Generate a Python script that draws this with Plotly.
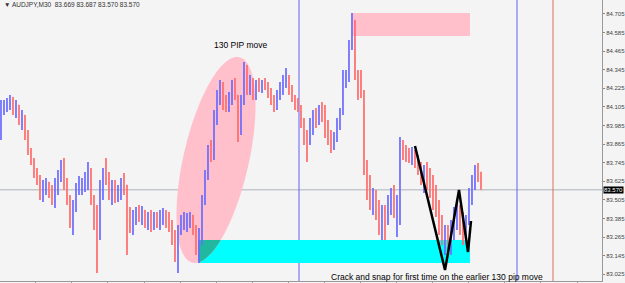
import math
import plotly.graph_objects as go

# ---------------- data (AUDJPY M30) ----------------
highs = [84.150, 84.150, 84.163, 84.182, 84.169, 84.150, 84.118, 84.085, 84.053, 83.956,
         83.840, 83.776, 83.711, 83.666, 83.634, 83.647, 83.621, 83.602, 83.647, 83.698,
         83.763, 83.776, 83.647, 83.537, 83.505, 83.614, 83.660, 83.647, 83.685, 83.750,
         83.711, 83.537, 83.472, 83.634, 83.711, 83.776, 83.685, 83.634, 83.634, 83.602,
         83.647, 83.679, 83.602, 83.460, 83.440, 83.460, 83.472, 83.466, 83.440, 83.427,
         83.440, 83.427, 83.427, 83.440, 83.453, 83.440, 83.427, 83.376, 83.311, 83.343,
         83.408, 83.427, 83.421, 83.427, 83.408, 83.343, 83.324, 83.537, 83.698, 83.860,
         83.892, 84.085, 84.214, 84.279, 84.266, 84.182, 84.201, 84.279, 84.292, 84.182,
         84.182, 84.395, 84.376, 84.311, 84.292, 84.279, 84.292, 84.279, 84.292, 84.266,
         84.227, 84.182, 84.214, 84.266, 84.311, 84.356, 84.311, 84.247, 84.182, 84.163,
         84.118, 84.034, 83.956, 84.034, 84.085, 84.098, 84.118, 84.137, 84.118, 84.021,
         83.956, 83.943, 84.034, 84.098, 84.343, 84.343, 84.537, 84.711, 84.666, 84.343,
         84.343, 84.214, 83.763, 83.666, 83.582, 83.569, 83.505, 83.472, 83.472, 83.537,
         83.582, 83.602, 83.537, 83.911, 83.892, 83.860, 83.840, 83.847, 83.827, 83.795,
         83.750, 83.730, 83.750, 83.711, 83.666, 83.602, 83.505, 83.408, 83.343, 83.343,
         83.376, 83.460, 83.505, 83.472, 83.427, 83.408, 83.582, 83.666, 83.730, 83.743,
         83.687]
lows = [83.892, 84.053, 84.072, 84.085, 84.053, 84.034, 83.989, 83.956, 83.892, 83.795,
        83.730, 83.647, 83.602, 83.505, 83.492, 83.537, 83.518, 83.472, 83.453, 83.537,
        83.621, 83.569, 83.472, 83.324, 83.279, 83.427, 83.537, 83.537, 83.556, 83.569,
        83.472, 83.311, 83.034, 83.247, 83.505, 83.602, 83.505, 83.472, 83.485, 83.492,
        83.505, 83.537, 83.150, 83.292, 83.279, 83.343, 83.363, 83.343, 83.324, 83.311,
        83.298, 83.311, 83.324, 83.311, 83.343, 83.324, 83.298, 83.214, 83.105, 83.034,
        83.279, 83.311, 83.298, 83.324, 83.279, 83.150, 83.098, 83.214, 83.472, 83.634,
        83.750, 83.763, 83.989, 84.118, 84.085, 84.072, 84.072, 84.118, 84.150, 83.879,
        83.924, 84.118, 84.182, 84.182, 84.150, 84.150, 84.201, 84.195, 84.214, 84.163,
        84.118, 84.072, 84.085, 84.150, 84.182, 84.227, 84.182, 84.137, 84.085, 84.072,
        83.969, 83.860, 83.750, 83.860, 83.924, 83.969, 83.989, 84.008, 83.905, 83.860,
        83.808, 83.827, 83.879, 83.956, 84.053, 84.227, 84.266, 84.472, 84.279, 84.150,
        84.163, 83.666, 83.505, 83.440, 83.408, 83.376, 83.279, 83.247, 83.247, 83.343,
        83.408, 83.389, 83.266, 83.343, 83.763, 83.750, 83.743, 83.730, 83.711, 83.666,
        83.602, 83.550, 83.569, 83.518, 83.440, 83.395, 83.279, 83.214, 83.150, 83.137,
        83.150, 83.247, 83.311, 83.279, 83.214, 83.247, 83.343, 83.472, 83.569, 83.621,
        83.570]
closes = [84.085, 84.098, 84.137, 84.150, 84.072, 84.118, 84.021, 84.053, 83.924, 83.827,
          83.763, 83.698, 83.634, 83.537, 83.602, 83.621, 83.550, 83.518, 83.602, 83.666,
          83.730, 83.602, 83.505, 83.376, 83.472, 83.569, 83.602, 83.634, 83.666, 83.698,
          83.505, 83.408, 83.311, 83.569, 83.666, 83.634, 83.537, 83.602, 83.537, 83.569,
          83.621, 83.602, 83.408, 83.343, 83.408, 83.427, 83.389, 83.440, 83.363, 83.408,
          83.343, 83.389, 83.376, 83.408, 83.427, 83.363, 83.343, 83.247, 83.182, 83.324,
          83.363, 83.376, 83.389, 83.408, 83.311, 83.214, 83.247, 83.505, 83.666, 83.827,
          83.795, 84.053, 84.182, 84.214, 84.150, 84.118, 84.150, 84.247, 84.182, 83.956,
          84.150, 84.343, 84.247, 84.279, 84.182, 84.247, 84.227, 84.266, 84.247, 84.201,
          84.150, 84.118, 84.182, 84.227, 84.279, 84.292, 84.214, 84.163, 84.137, 84.098,
          84.021, 83.892, 83.892, 83.989, 84.034, 84.021, 84.085, 84.053, 83.956, 83.892,
          83.860, 83.905, 83.989, 84.072, 84.279, 84.292, 84.505, 84.666, 84.311, 84.214,
          84.182, 83.730, 83.602, 83.505, 83.537, 83.440, 83.343, 83.408, 83.376, 83.472,
          83.505, 83.440, 83.505, 83.860, 83.827, 83.795, 83.776, 83.814, 83.750, 83.698,
          83.647, 83.666, 83.634, 83.569, 83.505, 83.440, 83.343, 83.260, 83.279, 83.182,
          83.311, 83.408, 83.440, 83.343, 83.279, 83.376, 83.537, 83.634, 83.685, 83.669,
          83.570]
first_open = 83.924
opens = [first_open] + closes[:-1]
bars = list(range(len(closes)))

ytick_vals = [83.025, 83.145, 83.265, 83.385, 83.505, 83.625, 83.745, 83.865,
              83.985, 84.105, 84.225, 84.345, 84.465, 84.585, 84.705]
ytick_text = ["83.025", "83.145", "83.265", "83.385", "83.505", "83.625", "83.745", "83.865",
              "83.985", "84.105", "84.225", "84.345", "84.465", "84.585", "84.705"]
header_text = "\u25bc AUDJPY,M30  83.669 83.687 83.570 83.570"
last_price = 83.570
note_top = "130 PIP move"
note_bottom = "Crack and snap for first time on the earlier 130 pip move"

# ---------------- layout geometry ----------------
X_RANGE = [-0.33, 200.34]
Y_RANGE = [82.982, 84.795]
PW, PH = 602, 281   # plot area in px


def X(px):
    return X_RANGE[0] + px / PW * (X_RANGE[1] - X_RANGE[0])


def Y(py):
    return Y_RANGE[1] - py / PH * (Y_RANGE[1] - Y_RANGE[0])


def path_from_px(pts, close=True):
    s = "M " + " L ".join(f"{X(p[0]):.4f},{Y(p[1]):.5f}" for p in pts)
    return s + (" Z" if close else "")


def ellipse_px(cx, cy, a, b, theta_deg, n=120):
    th = math.radians(theta_deg)
    pts = []
    for k in range(n):
        t = 2 * math.pi * k / n
        u, v = a * math.cos(t), b * math.sin(t)
        pts.append((cx + u * math.sin(th) + v * math.cos(th),
                    cy - u * math.cos(th) + v * math.sin(th)))
    return pts


def clip(poly, xmin, xmax, ymin, ymax):
    def edge(pts, inside, inter):
        out = []
        for i in range(len(pts)):
            cur, prev = pts[i], pts[i - 1]
            if inside(cur):
                if not inside(prev):
                    out.append(inter(prev, cur))
                out.append(cur)
            elif inside(prev):
                out.append(inter(prev, cur))
        return out

    def ix(xc):
        return lambda p, q: (xc, p[1] + (q[1] - p[1]) * (xc - p[0]) / (q[0] - p[0]))

    def iy(yc):
        return lambda p, q: (p[0] + (q[0] - p[0]) * (yc - p[1]) / (q[1] - p[1]), yc)

    pts = edge(poly, lambda p: p[0] >= xmin, ix(xmin))
    pts = edge(pts, lambda p: p[0] <= xmax, ix(xmax))
    pts = edge(pts, lambda p: p[1] >= ymin, iy(ymin))
    pts = edge(pts, lambda p: p[1] <= ymax, iy(ymax))
    return pts


fig = go.Figure()
fig.add_trace(go.Ohlc(
    x=bars, open=opens, high=highs, low=lows, close=closes,
    increasing=dict(line=dict(color="#6b6bff", width=1.7)),
    decreasing=dict(line=dict(color="#ff6b6b", width=1.7)),
    tickwidth=0.1, hoverinfo="skip", showlegend=False,
))

shapes = []
# pink zone top
shapes.append(dict(type="rect", xref="x", yref="y", x0=X(352), x1=X(470), y0=Y(36), y1=Y(13),
                   fillcolor="#ffc0cb", line=dict(width=0), layer="below"))
# cyan zone bottom
shapes.append(dict(type="rect", xref="x", yref="y", x0=X(198), x1=X(470), y0=Y(263), y1=Y(240),
                   fillcolor="#00ffff", line=dict(width=0), layer="below"))
# pink tilted ellipse
ell = ellipse_px(216, 160, 105.4, 32.7, 12.8)
shapes.append(dict(type="path", xref="x", yref="y", path=path_from_px(ell),
                   fillcolor="#ffc0cb", line=dict(width=0), layer="below"))
# overlap of ellipse and cyan zone
ov = clip(ell, 198, 470, 240, 263)
if len(ov) > 2:
    shapes.append(dict(type="path", xref="x", yref="y", path=path_from_px(ov),
                       fillcolor="#22b8a0", line=dict(width=0), layer="below"))
# current price line
shapes.append(dict(type="line", xref="paper", yref="y", x0=0, x1=1, y0=last_price, y1=last_price,
                   line=dict(color="#c4c8cc", width=1.5), layer="below"))
# vertical separators
for px, col in [(299, "#6060ff"), (517, "#6060ff"), (553, "#d8705e")]:
    shapes.append(dict(type="line", xref="x", yref="paper", x0=X(px), x1=X(px), y0=0, y1=1,
                       line=dict(color=col, width=1), layer="below"))
# black zigzag
zig = [(415, 146), (445, 270), (459, 190), (468, 252), (471, 221)]
shapes.append(dict(type="path", xref="x", yref="y", path=path_from_px(zig, close=False),
                   line=dict(color="black", width=2.5), layer="above"))

annotations = [
    dict(text=header_text, xref="paper", yref="paper", x=0, y=1, xanchor="left", yanchor="top",
         xshift=2, yshift=1, showarrow=False, font=dict(size=6.5, color="#333", family="Arial")),
    dict(text=note_top, xref="x", yref="y", x=X(241), y=Y(45), showarrow=False,
         font=dict(size=8.5, color="black", family="Arial")),
    dict(text=note_bottom, xref="x", yref="y", x=X(437), y=Y(277), showarrow=False,
         font=dict(size=8.5, color="black", family="Arial")),
    dict(text=f"{last_price:.3f}", xref="paper", yref="y", x=1, y=last_price, xanchor="left",
         yanchor="middle", xshift=1, showarrow=False, bgcolor="black", borderpad=0,
         font=dict(size=6, color="white", family="Arial")),
]

fig.update_layout(
    width=625, height=283,
    margin=dict(l=0, r=23, t=0, b=2),
    paper_bgcolor="#f4f4f4", plot_bgcolor="#f4f4f4",
    shapes=shapes, annotations=annotations,
    showlegend=False,
    xaxis=dict(range=X_RANGE, showgrid=False, zeroline=False, showline=True, linecolor="#999",
               linewidth=1, ticks="outside", ticklen=3, tickcolor="#999", tick0=-0.45, dtick=12.03,
               showticklabels=False, rangeslider=dict(visible=False), fixedrange=True),
    yaxis=dict(range=Y_RANGE, side="right", showgrid=False, zeroline=False, showline=True,
               linecolor="#999", linewidth=1, ticks="outside", ticklen=2, tickcolor="#888",
               tickvals=ytick_vals, ticktext=ytick_text,
               tickfont=dict(size=6, color="#444", family="Arial"), fixedrange=True),
)

fig.write_html("out.html")
